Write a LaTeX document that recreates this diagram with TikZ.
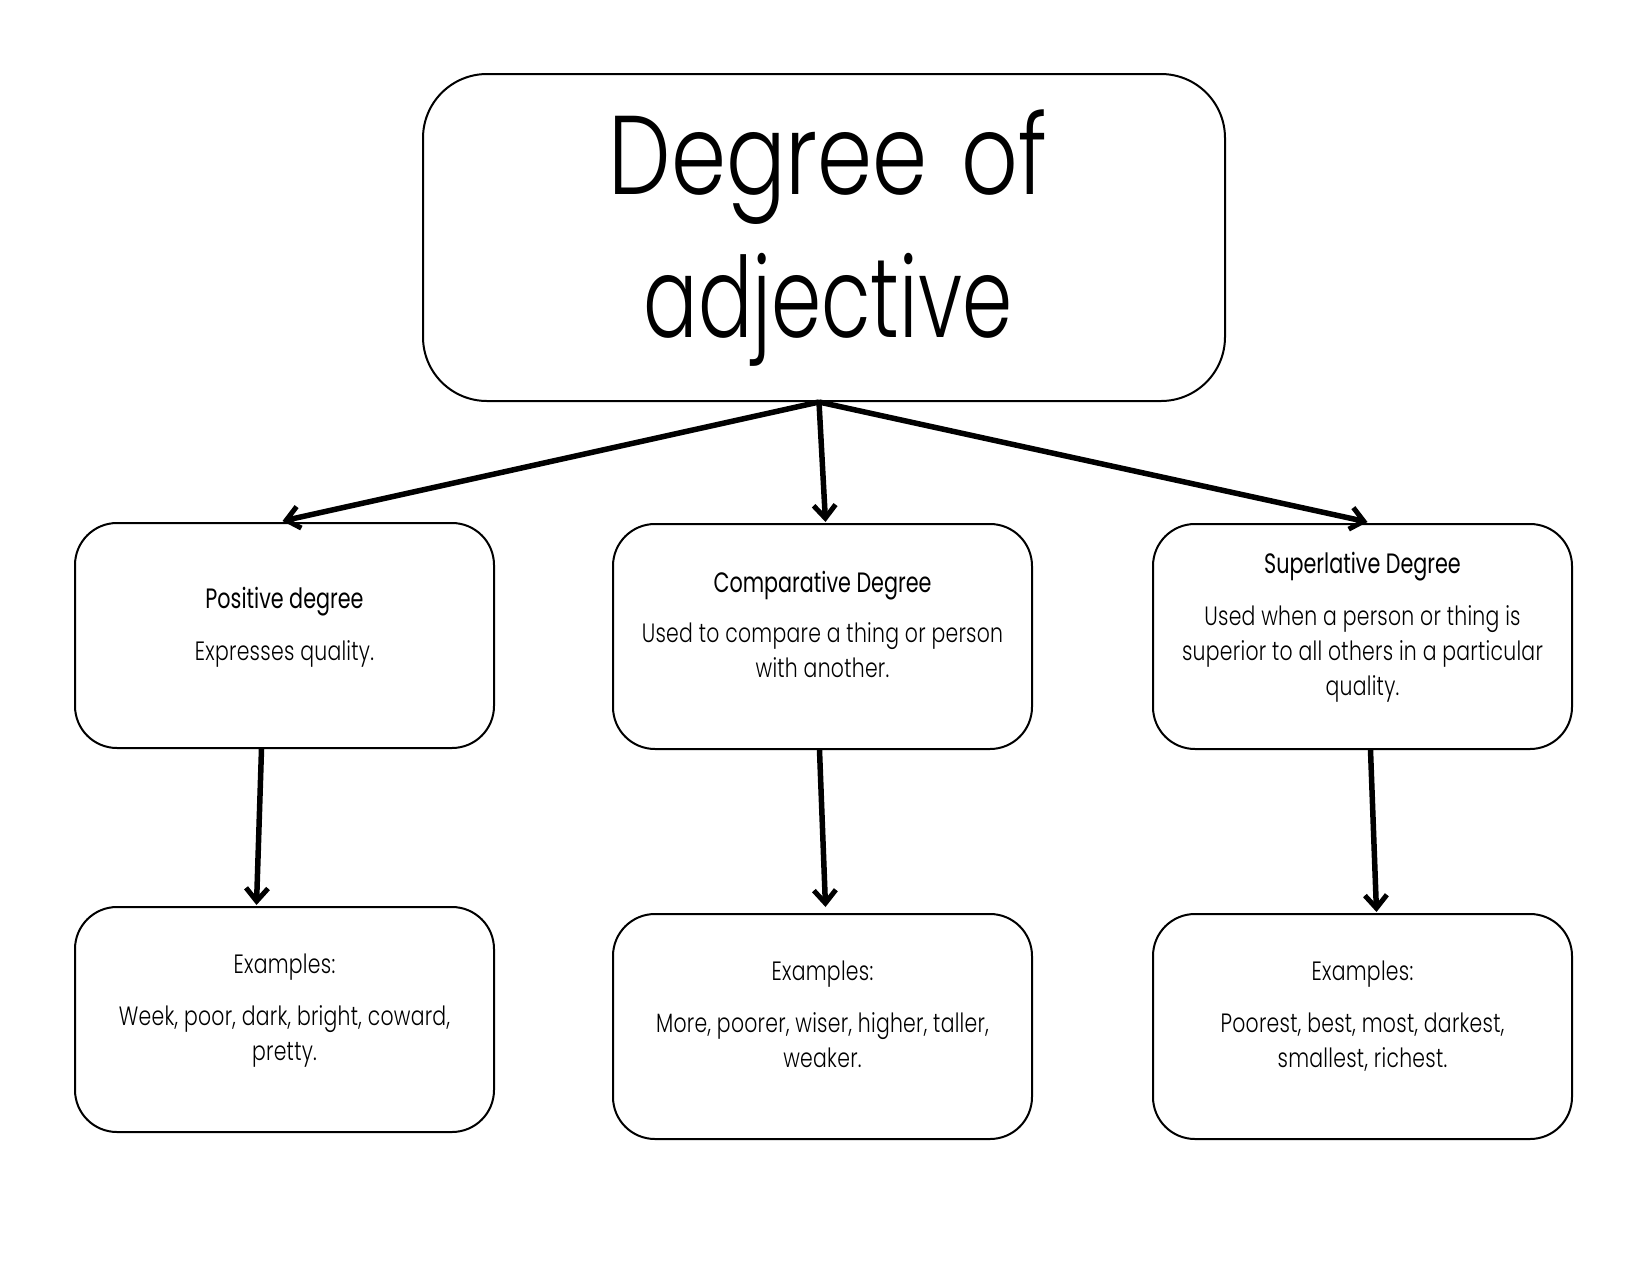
\documentclass[tikz,border=0pt]{standalone}
\usepackage{fontspec}
\setmainfont{Poppins}
\newfontfamily\titlefont[FakeStretch=0.72]{Poppins Light}
\newfontfamily\titlefonta[FakeStretch=0.79]{Poppins Light}
\newfontfamily\headfont[FakeStretch=0.74]{Poppins}
\newfontfamily\bodyfont[FakeStretch=0.77,LetterSpace=1]{Poppins Light}
\usetikzlibrary{arrows.meta,calc}
\begin{document}
\begin{tikzpicture}[x=1pt,y=-1pt,
  box/.style={draw=black,line width=2pt,rounded corners=42pt,minimum width=419pt,minimum height=225pt,inner sep=0pt},
  bigbox/.style={draw=black,line width=2pt,rounded corners=64pt,minimum width=802pt,minimum height=327pt,inner sep=0pt},
  head/.style={font=\headfont\fontsize{28}{35}\selectfont,inner sep=0pt,anchor=base},
  body/.style={font=\bodyfont\fontsize{26.5}{35}\selectfont,align=center,inner sep=0pt,anchor=base},
  arr/.style={line width=5.5pt,-{Straight Barb[length=13pt,width=22pt,line width=5pt]}}]
\useasboundingbox (0,0) rectangle (1650,1275);
\node[bigbox] (top) at (824,237.5) {};
\node[font=\titlefont\fontsize{112}{143}\selectfont,align=center,inner sep=0pt,anchor=base] (title) at (828,337) {{\titlefonta Degree\hspace{34pt}of}\\adjective};
% middle boxes
\node[box] (pos) at (284.5,635.5) {};
\node[box] (comp) at (822.5,636.5) {};
\node[box] (sup) at (1362.5,636.5) {};
% bottom boxes
\node[box] (posex) at (284.5,1019.5) {};
\node[box] (compex) at (822.5,1026.5) {};
\node[box] (supex) at (1362.5,1026.5) {};
% texts
\node[head] (posh) at (284.5,608) {Positive degree};
\node[body] (posb) at (284.5,660) {Expresses quality.};
\node[head] (comph) at (822.5,592) {Comparative Degree};
\node[body] (compb) at (822.5,677) {Used to compare a thing or person\\with another.};
\node[head] (suph) at (1362.5,573) {Superlative Degree};
\node[body] (supb) at (1362.5,695) {Used when a person or thing is\\superior to all others in a particular\\quality.};
\node[body] (posexb) at (284.5,1060) {Examples:\\[17pt]Week, poor, dark, bright, coward,\\pretty.};
\node[body] (compexb) at (822.5,1067) {Examples:\\[17pt]More, poorer, wiser, higher, taller,\\weaker.};
\node[body] (supexb) at (1362.5,1067) {Examples:\\[17pt]Poorest, best, most, darkest,\\smallest, richest.};
% connectors
\coordinate (hub) at ($(top.south)+(-5,0)$);
\draw[arr] (hub) -- ($(pos.north)+(-2,-1)$);
\draw[arr] (hub) -- ($(comp.north)+(3,-1)$);
\draw[arr] (hub) -- ($(sup.north)+(5,-1)$);
\draw[arr] ($(pos.south)+(-23,0)$) -- ($(posex.north)+(-28,-1)$);
\draw[arr] ($(comp.south)+(-3,0)$) -- ($(compex.north)+(3,-6)$);
\draw[arr] ($(sup.south)+(8,0)$) -- ($(supex.north)+(14,-1)$);
\end{tikzpicture}
\end{document}
